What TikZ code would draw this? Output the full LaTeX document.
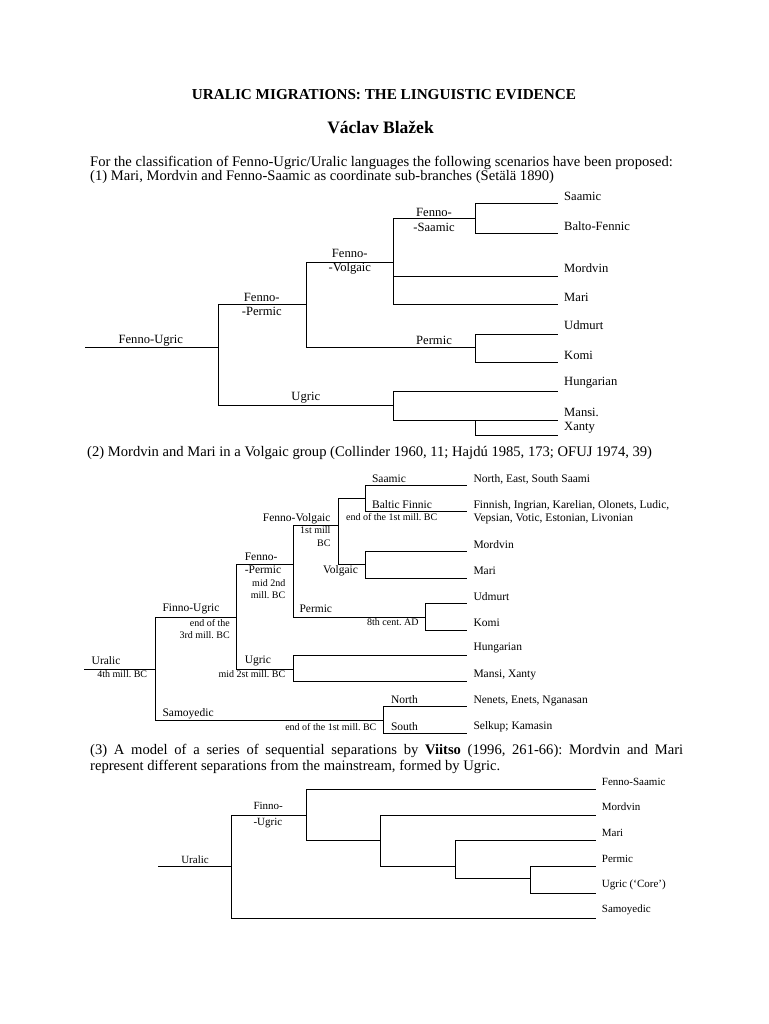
\documentclass[tikz,border=0pt]{standalone}
\usepackage{fontspec}
\setmainfont{Liberation Serif}
\frenchspacing
\newcommand{\fhead}{\fontsize{15.2}{17}\selectfont}
\newcommand{\fauth}{\fontsize{17.5}{19}\selectfont}
\newcommand{\fbody}{\fontsize{14.6}{16}\selectfont}
\newcommand{\fone}{\fontsize{12.6}{14.5}\selectfont}
\newcommand{\ftwo}{\fontsize{11.5}{13.3}\selectfont}
\newcommand{\fdate}{\fontsize{10}{12.2}\selectfont}
\newcommand{\fthree}{\fontsize{11}{16}\selectfont}
\tikzset{
  branch/.style={line width=1pt,line cap=rect},
  body/.style={anchor=west,inner sep=0pt,font=\fbody},
  cladeA/.style={inner sep=0pt,align=center,font=\fone},
  leafA/.style={anchor=west,inner sep=0pt,align=left,font=\fone},
  cladeB/.style={inner sep=0pt,font=\ftwo},
  dateB/.style={inner sep=0pt,font=\fdate},
  leafB/.style={anchor=west,inner sep=0pt,align=left,font=\ftwo},
  leafC/.style={anchor=west,inner sep=0pt,align=left,font=\fthree},
}
\begin{document}
\begin{tikzpicture}[x=1pt,y=-1pt]
\useasboundingbox (0,0) rectangle (768,1024);
\fill[white] (0,0) rectangle (768,1024);

% heading and text
\node[font=\fhead\bfseries,inner sep=0pt] (title) at (384,95) {URALIC MIGRATIONS: THE LINGUISTIC EVIDENCE};
\node[font=\fauth\bfseries,inner sep=0pt] (author) at (380.5,127) {Václav Blažek};
\node[body] (introA) at (90,163) {For the classification of Fenno-Ugric/Uralic languages the following scenarios have been proposed:};
\node[body] (introB) at (90,177) {(1) Mari, Mordvin and Fenno-Saamic as coordinate sub-branches (Setälä 1890)};
\node[body] (second) at (87,453) {(2) Mordvin and Mari in a Volgaic group (Collinder 1960, 11; Hajdú 1985, 173; OFUJ 1974, 39)};
\node[body] (thirdA) at (90,751) {\makebox[593pt][s]{(3) A model of a series of sequential separations by \textbf{Viitso} (1996, 261-66): Mordvin and Mari}};
\node[body] (thirdB) at (90,767) {represent different separations from the mainstream, formed by Ugric.};

% tree (1)
\coordinate (a0) at (85,347.7);
\coordinate (aFU) at (218.9,347.7);
\coordinate (aFP) at (306.6,304.3);
\coordinate (aFV) at (393,262.3);
\coordinate (aFS) at (475,218.3);
\coordinate (aPe) at (475,347.7);
\coordinate (aUg) at (393,405);
\coordinate (aMX) at (475,420.7);
\coordinate (aSaa) at (557.6,204);
\coordinate (aBF) at (557.6,233.3);
\coordinate (aMor) at (557.6,276.7);
\coordinate (aMar) at (557.6,304.3);
\coordinate (aUdm) at (557.6,334);
\coordinate (aKom) at (557.6,362.7);
\coordinate (aHun) at (557.6,391.7);
\coordinate (aMan) at (557.6,420.7);
\coordinate (aXan) at (557.6,435);

\draw[branch] (a0) -- (aFU);
\draw[branch] (aFU) |- (aFP);
\draw[branch] (aFU) |- (aUg);
\draw[branch] (aFP) |- (aFV);
\draw[branch] (aFP) |- (aPe);
\draw[branch] (aFV) |- (aFS);
\draw[branch] (aFV) |- (aMor);
\draw[branch] (aFV) |- (aMar);
\draw[branch] (aFS) |- (aSaa);
\draw[branch] (aFS) |- (aBF);
\draw[branch] (aPe) |- (aUdm);
\draw[branch] (aPe) |- (aKom);
\draw[branch] (aUg) |- (aHun);
\draw[branch] (aUg) |- (aMan);
\draw[branch] (aMX) |- (aXan);

\node[cladeA] (aFUl) at (150.8,340.7) {Fenno-Ugric};
\node[cladeA] (aFPl) at (261.8,304.5) {Fenno-\\-Permic};
\node[cladeA] (aFVl) at (349.8,261.5) {Fenno-\\-Volgaic};
\node[cladeA] (aFSl) at (434,219.8) {Fenno-\\-Saamic};
\node[cladeA] (aPel) at (434,340) {Permic};
\node[cladeA] (aUgl) at (305.8,397.3) {Ugric};
\node[leafA] (aSaal) at (564,196) {Saamic};
\node[leafA] (aBFl) at (564,225.7) {Balto-Fennic};
\node[leafA] (aMorl) at (564,267.7) {Mordvin};
\node[leafA] (aMarl) at (564,297) {Mari};
\node[leafA] (aUdml) at (564,325) {Udmurt};
\node[leafA] (aKoml) at (564,355) {Komi};
\node[leafA] (aHunl) at (564,383) {Hungarian};
\node[leafA] (aManl) at (564,420.5) {Mansi.\\Xanty};

% tree (2)
\coordinate (b0) at (84.6,669.3);
\coordinate (bUr) at (155.8,669.3);
\coordinate (bFU) at (236.9,617.3);
\coordinate (bSa) at (383.7,720.7);
\coordinate (bFP) at (293.2,564.3);
\coordinate (bUg) at (293.2,669.3);
\coordinate (bFV) at (338.3,525.7);
\coordinate (bPe) at (425.6,617.3);
\coordinate (bSG) at (365.7,498.3);
\coordinate (bVo) at (365.9,564.3);
\coordinate (bSaa) at (466,485.7);
\coordinate (bBF) at (466,511.7);
\coordinate (bMor) at (466,551);
\coordinate (bMar) at (466,578.3);
\coordinate (bUdm) at (466,603.3);
\coordinate (bKom) at (466,630);
\coordinate (bHun) at (466,655.7);
\coordinate (bMan) at (466,681.7);
\coordinate (bNo) at (466,706.7);
\coordinate (bSo) at (466,733.3);

\draw[branch] (b0) -- (bUr);
\draw[branch] (bUr) |- (bFU);
\draw[branch] (bUr) |- (bSa);
\draw[branch] (bFU) |- (bFP);
\draw[branch] (bFU) |- (bUg);
\draw[branch] (bFP) |- (bFV);
\draw[branch] (bFP) |- (bPe);
\draw[branch] (bFV) |- (bSG);
\draw[branch] (bFV) |- (bVo);
\draw[branch] (bSG) |- (bSaa);
\draw[branch] (bSG) |- (bBF);
\draw[branch] (bVo) |- (bMor);
\draw[branch] (bVo) |- (bMar);
\draw[branch] (bPe) |- (bUdm);
\draw[branch] (bPe) |- (bKom);
\draw[branch] (bUg) |- (bHun);
\draw[branch] (bUg) |- (bMan);
\draw[branch] (bSa) |- (bNo);
\draw[branch] (bSa) |- (bSo);

\node[cladeB] (bSaal) at (389,479) {Saamic};
\node[cladeB] (bBFl) at (402,505) {Baltic Finnic};
\node[dateB] (bBFd) at (391.7,516.7) {end of the 1st mill. BC};
\node[cladeB] (bFVl) at (296.7,518.3) {Fenno-Volgaic};
\node[dateB,align=right,anchor=east] (bFVd) at (330.7,536.6) {1st mill\\BC};
\node[cladeB] (bVol) at (340.5,570.3) {Volgaic};
\node[cladeB,align=left,anchor=west] (bFPl) at (244.6,563.3) {Fenno-\\-Permic};
\node[dateB,align=right,anchor=east] (bFPd) at (285.5,589.2) {mid 2nd\\mill. BC};
\node[cladeB,anchor=west] (bPel) at (299.3,609) {Permic};
\node[dateB,anchor=east] (bPed) at (418.7,622) {8th cent. AD};
\node[cladeB] (bFUl) at (191,609) {Finno-Ugric};
\node[dateB,align=right,anchor=east] (bFUd) at (230,628.8) {end of the\\3rd mill. BC};
\node[cladeB,anchor=west] (bUrl) at (91.5,661) {Uralic};
\node[dateB,anchor=west] (bUrd) at (97.2,674) {4th mill. BC};
\node[cladeB,anchor=west] (bUgl) at (244.6,661) {Ugric};
\node[dateB,anchor=east] (bUgd) at (285.5,674) {mid 2st mill. BC};
\node[cladeB,anchor=west] (bSal) at (162.3,713.3) {Samoyedic};
\node[dateB,anchor=east] (bSad) at (376.6,726.7) {end of the 1st mill. BC};
\node[cladeB,anchor=west] (bNol) at (390.8,700) {North};
\node[cladeB,anchor=west] (bSol) at (390.8,726.7) {South};
\node[leafB] (bSaat) at (473.3,479) {North, East, South Saami};
\node[leafB] (bBFt) at (473.3,512) {Finnish, Ingrian, Karelian, Olonets, Ludic,\\Vepsian, Votic, Estonian, Livonian};
\node[leafB] (bMort) at (473.3,545) {Mordvin};
\node[leafB] (bMart) at (473.3,570.3) {Mari};
\node[leafB] (bUdmt) at (473.3,597) {Udmurt};
\node[leafB] (bKomt) at (473.3,622.3) {Komi};
\node[leafB] (bHunt) at (473.3,648.3) {Hungarian};
\node[leafB] (bMant) at (473.3,675) {Mansi, Xanty};
\node[leafB] (bNot) at (473.3,701) {Nenets, Enets, Nganasan};
\node[leafB] (bSot) at (473.3,726.7) {Selkup; Kamasin};

% tree (3)
\coordinate (c0) at (158.3,866.7);
\coordinate (cUr) at (231.7,866.7);
\coordinate (cFU) at (306.7,815.7);
\coordinate (cI1) at (380.7,840);
\coordinate (cI2) at (455,866.7);
\coordinate (cI3) at (530,878.3);
\coordinate (cFS) at (595,789);
\coordinate (cMor) at (595,815.7);
\coordinate (cMar) at (595,840);
\coordinate (cPer) at (595,866.7);
\coordinate (cUgr) at (595,893.3);
\coordinate (cSam) at (595,918.3);

\draw[branch] (c0) -- (cUr);
\draw[branch] (cUr) |- (cFU);
\draw[branch] (cUr) |- (cSam);
\draw[branch] (cFU) |- (cFS);
\draw[branch] (cFU) |- (cI1);
\draw[branch] (cI1) |- (cMor);
\draw[branch] (cI1) |- (cI2);
\draw[branch] (cI2) |- (cMar);
\draw[branch] (cI2) |- (cI3);
\draw[branch] (cI3) |- (cPer);
\draw[branch] (cI3) |- (cUgr);

\node[inner sep=0pt,font=\fthree] (cUrl) at (195,859.3) {Uralic};
\node[leafC] (cFUl) at (253.3,815.3) {Finno-\\-Ugric};
\node[leafC] (cFSl) at (601.7,781.7) {Fenno-Saamic};
\node[leafC] (cMorl) at (601.7,806.7) {Mordvin};
\node[leafC] (cMarl) at (601.7,832.7) {Mari};
\node[leafC] (cPerl) at (601.7,859.3) {Permic};
\node[leafC] (cUgrl) at (601.7,885) {Ugric (`Core')};
\node[leafC] (cSaml) at (601.7,910) {Samoyedic};
\end{tikzpicture}
\end{document}
